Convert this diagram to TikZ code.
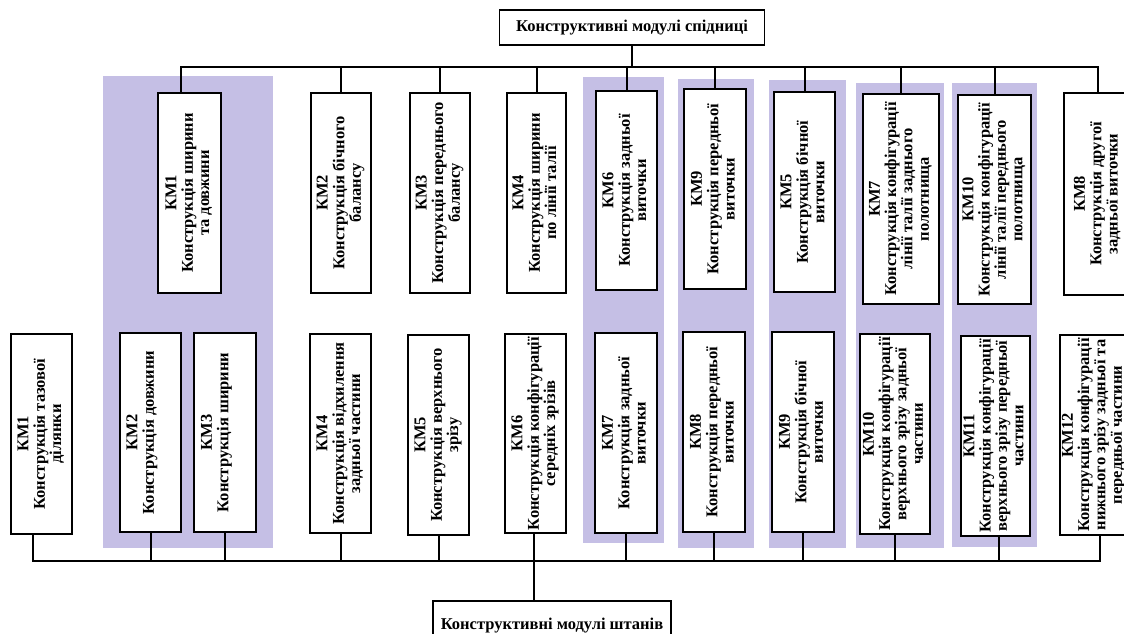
\documentclass[tikz,border=0pt]{standalone}
\usepackage{fontspec}
\setmainfont{Liberation Serif}
\usepackage{graphicx}
\definecolor{lilac}{RGB}{197,191,229}
% rotated, centred multi-line label for the module boxes
\newcommand\vlab[1]{\rotatebox{90}{\begin{tabular}{@{}c@{}}#1\end{tabular}}}
\begin{document}
\begin{tikzpicture}[x=1pt,y=-1pt,
  every node/.style={font=\fontsize{16.5}{16.3}\selectfont\bfseries},
  mod/.style={draw, line width=2pt, fill=white, inner sep=0pt},
  thinmod/.style={mod, line width=1.4pt},
  headbox/.style={draw, line width=1.3pt, fill=white, inner sep=0pt},
  wire/.style={line width=2pt, line cap=rect},
  band/.style={fill=lilac, draw=none}]
\useasboundingbox (0,0) rectangle (1124,633);
\clip (0,0) rectangle (1124,633);

% shaded groups
\fill[band] (103,76) rectangle (273,548);
\fill[band] (583,77) rectangle (664,543);
\fill[band] (678,79) rectangle (754,548);
\fill[band] (769,80) rectangle (846,548);
\fill[band] (856,83) rectangle (944,548);
\fill[band] (952,83) rectangle (1037,547);

% headings
\node[headbox, minimum width=265pt, minimum height=35pt] (top) at (632,27.5) {Конструктивні модулі спідниці};
\node[headbox, minimum width=238pt, minimum height=50pt] (bot) at (552,626) {Конструктивні модулі штанів};

% skirt modules
\node[mod, minimum width=63pt, minimum height=200pt] (t1) at (189.5,193) {\vlab{КМ1\\Конструкція ширини\\та довжини}};
\node[mod, minimum width=60pt, minimum height=200pt] (t2) at (341,193) {\vlab{КМ2\\Конструкція бічного\\балансу}};
\node[mod, minimum width=60pt, minimum height=200pt] (t3) at (440,193) {\vlab{КМ3\\Конструкція переднього\\балансу}};
\node[mod, minimum width=59pt, minimum height=200pt] (t4) at (536.5,193) {\vlab{КМ4\\Конструкція ширини\\по лінії талії}};
\node[mod, minimum width=61pt, minimum height=199pt] (t6) at (626.5,190.5) {\vlab{КМ6\\Конструкція задньої\\виточки}};
\node[mod, minimum width=62pt, minimum height=200pt] (t9) at (715,189) {\vlab{КМ9\\Конструкція передньої\\виточки}};
\node[mod, minimum width=61pt, minimum height=200pt] (t5) at (804.5,192) {\vlab{КМ5\\Конструкція бічної\\виточки}};
\node[mod, minimum width=76pt, minimum height=210pt] (t7) at (901,199) {\vlab{КМ7\\Конструкція конфігурації\\лінії талії заднього\\полотнища}};
\node[mod, minimum width=73pt, minimum height=209pt] (t10) at (994.5,199.5) {\vlab{КМ10\\Конструкція конфігурації\\лінії талії переднього\\полотнища}};
\node[thinmod, minimum width=68pt, minimum height=202pt] (t8) at (1098,194) {\vlab{КМ8\\Конструкція другої\\задньої виточки}};

% trouser modules
\node[mod, minimum width=61pt, minimum height=200pt] (b1) at (41.5,434) {\vlab{КМ1\\Конструкція тазової\\ділянки}};
\node[mod, minimum width=61pt, minimum height=199pt] (b2) at (150.5,432.5) {\vlab{КМ2\\Конструкція довжини\\\strut}};
\node[mod, minimum width=62pt, minimum height=199pt] (b3) at (225,432.5) {\vlab{КМ3\\Конструкція ширини\\\strut}};
\node[mod, minimum width=61pt, minimum height=199pt] (b4) at (340.5,433.5) {\vlab{КМ4\\Конструкція відхилення\\задньої частини}};
\node[mod, minimum width=61pt, minimum height=200pt] (b5) at (438.5,435) {\vlab{КМ5\\Конструкція верхнього\\зрізу}};
\node[thinmod, minimum width=61pt, minimum height=199pt] (b6) at (535.5,433.5) {\vlab{КМ6\\Конструкція конфігурації\\середніх зрізів}};
\node[mod, minimum width=62pt, minimum height=200pt] (b7) at (626,433) {\vlab{КМ7\\Конструкція задньої\\виточки}};
\node[mod, minimum width=62pt, minimum height=200pt] (b8) at (714,432) {\vlab{КМ8\\Конструкція передньої\\виточки}};
\node[mod, minimum width=62pt, minimum height=200pt] (b9) at (803,432) {\vlab{КМ9\\Конструкція бічної\\виточки}};
\node[mod, minimum width=70pt, minimum height=200pt] (b10) at (895,434) {\vlab{КМ10\\Конструкція конфігурації\\верхнього зрізу задньої\\частини}};
\node[mod, minimum width=69pt, minimum height=200pt] (b11) at (995.5,436) {\vlab{КМ11\\Конструкція конфігурації\\верхнього зрізу передньої\\частини}};
\node[thinmod, minimum width=68pt, minimum height=200pt] (b12) at (1094,435) {\vlab{КМ12\\Конструкція конфігурації\\нижнього зрізу задньої та\\передньої частини}};

% bus levels and off-centre taps
\coordinate (tbus) at (0,67);
\coordinate (bbus) at (0,561);
\coordinate (t1a) at ([xshift=-8.5pt]t1.north);
\coordinate (b1a) at ([xshift=-8.5pt]b1.south);
\coordinate (b11a) at ([xshift=3.5pt]b11.south);
\coordinate (b12a) at ([xshift=6pt]b12.south);
\coordinate (b6a) at ([xshift=-1.5pt]b6.south);

% upper bus
\draw[wire] (top.south) -- (top.south |- tbus);
\draw[wire] (t1a |- tbus) -- (t8.north |- tbus);
\draw[wire] (t1a) -- (t1a |- tbus);
\foreach \n in {t2,t3,t4,t6,t9,t5,t7,t10,t8}
  \draw[wire] (\n.north) -- (\n.north |- tbus);

% lower bus
\draw[wire] (b1a |- bbus) -- (b12a |- bbus);
\draw[wire] (b1a) -- (b1a |- bbus);
\draw[wire] (b11a) -- (b11a |- bbus);
\draw[wire] (b12a) -- (b12a |- bbus);
\foreach \n in {b2,b3,b4,b5,b7,b8,b9,b10}
  \draw[wire] (\n.south) -- (\n.south |- bbus);
\draw[wire] (b6a) -- (b6a |- bot.north);
\end{tikzpicture}
\end{document}
